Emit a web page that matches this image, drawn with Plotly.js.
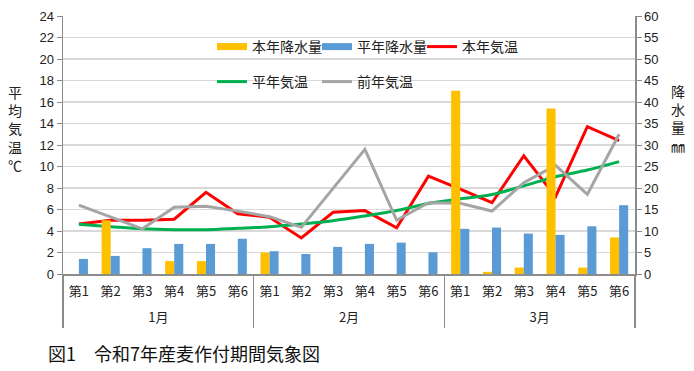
<!DOCTYPE html>
<html>
<head>
<meta charset="utf-8">
<script src="https://cdn.plot.ly/plotly-3.0.1.min.js"></script>
<style>html,body{margin:0;padding:0;background:#fff;}#chart{width:694px;height:371px;}</style>
</head>
<body>
<div id="chart"></div>
<script>
const months = ['1月','2月','3月'];
const weeks = ['第1','第2','第3','第4','第5','第6'];
// precipitation (mm, right axis)
const rainThisYear   = [0,12.5,0,3,3,0, 5,0,0,0,0,0, 42.6,0.5,1.5,38.5,1.5,8.5];
const rainNormal     = [3.5,4.2,6,7,7,8.2, 5.3,4.65,6.3,7,7.3,5.05, 10.5,10.8,9.4,9.1,11.1,16.0];
// mean temperature (°C, left axis)
const tempThisYear   = [4.65,5.0,5.0,5.1,7.6,5.6, 5.27,3.35,5.74,5.9,4.3,9.1, 7.9,6.63,11.0,7.2,13.7,12.4];
const tempNormal     = [4.62,4.4,4.2,4.12,4.12,4.25, 4.4,4.65,4.96,5.4,5.9,6.55, 6.98,7.4,8.2,9.05,9.67,10.45];
const tempPrevYear   = [6.4,5.33,4.2,6.2,6.3,5.85, 5.33,4.34,8.0,11.6,5.0,6.63, 6.57,5.86,8.5,10.1,7.4,13.0];

// category positions (one slot per week of each month)
const nW = weeks.length;
const xIdx = [], weekText = [];
months.forEach((m, mi) => weeks.forEach((w, wi) => { xIdx.push(mi * nW + wi); weekText.push(w); }));
const monthCenters = months.map((m, mi) => mi * nW + (nW - 1) / 2);
const monthEdges = [-0.5].concat(months.map((m, mi) => (mi + 1) * nW - 0.5));
const XR = [-0.5, months.length * nW - 0.5];

const FONT = 'Liberation Sans, Noto Sans CJK JP, sans-serif';
const JFONT = 'Noto Sans CJK JP, sans-serif';
const C_RAIN = '#FFC000', C_RAIN_N = '#5B9BD5';
const AX = '#8c8c8c';

const traces = [
  {type:'bar', name:'本年降水量', x:xIdx, y:rainThisYear, yaxis:'y2', marker:{color:C_RAIN}, showlegend:false},
  {type:'bar', name:'平年降水量', x:xIdx, y:rainNormal, yaxis:'y2', marker:{color:C_RAIN_N}, showlegend:false},
  // legend-only entries for the bar series (wide swatch like the original); they also anchor the label axes
  {type:'scatter', mode:'lines', name:'本年降水量', x:[null], y:[null], xaxis:'x3', line:{color:C_RAIN, width:7}, legend:'legend'},
  {type:'scatter', mode:'lines', name:'平年降水量', x:[null], y:[null], xaxis:'x4', line:{color:C_RAIN_N, width:7}, legend:'legend'},
  {type:'scatter', mode:'lines', name:'本年気温', x:xIdx, y:tempThisYear, line:{color:'#FF0000', width:3}, legend:'legend'},
  {type:'scatter', mode:'lines', name:'平年気温', x:xIdx, y:tempNormal, line:{color:'#00B050', width:3, shape:'spline'}, legend:'legend2'},
  {type:'scatter', mode:'lines', name:'前年気温', x:xIdx, y:tempPrevYear, line:{color:'#A5A5A5', width:3}, legend:'legend2'}
];

const legendCommon = {
  orientation:'h', xanchor:'left', yanchor:'middle', bgcolor:'rgba(255,255,255,0)',
  font:{family:JFONT, size:14, color:'#222'}, entrywidth:60, entrywidthmode:'pixels',
  itemwidth:30, tracegroupgap:0, traceorder:'normal'
};

const layout = {
  width:694, height:371,
  margin:{l:63, r:59, t:16, b:97, autoexpand:false},
  paper_bgcolor:'#fff', plot_bgcolor:'#fff',
  font:{family:FONT, size:13, color:'#222'},
  barmode:'group', bargap:0.43, bargroupgap:0,
  showlegend:true,
  legend:Object.assign({}, legendCommon, {x:(212-63)/572, y:(274-47)/258}),
  legend2:Object.assign({}, legendCommon, {x:(212-63)/572, y:(274-82)/258}),
  // week labels
  xaxis:{
    type:'linear', range:XR, tickmode:'array', tickvals:xIdx, ticktext:weekText,
    showline:true, linecolor:AX, linewidth:1.5, ticks:'', showgrid:false, zeroline:false,
    ticklabelstandoff:5, tickfont:{family:JFONT, size:13, color:'#222'}, fixedrange:true
  },
  // month labels
  xaxis3:{
    type:'linear', overlaying:'x', anchor:'y', side:'bottom', range:XR,
    tickmode:'array', tickvals:monthCenters, ticktext:months,
    showline:false, ticks:'', showgrid:false, zeroline:false,
    ticklabelstandoff:34, tickfont:{family:JFONT, size:13, color:'#222'}, fixedrange:true
  },
  // month dividers
  xaxis4:{
    type:'linear', overlaying:'x', anchor:'y', side:'bottom', range:XR,
    tickmode:'array', tickvals:monthEdges, ticktext:monthEdges.map(() => ''),
    showline:false, ticks:'outside', ticklen:53, tickwidth:1.2, tickcolor:AX,
    showgrid:false, zeroline:false, showticklabels:false, fixedrange:true
  },
  yaxis:{
    range:[0,24], dtick:2, tick0:0, showline:true, linecolor:AX, linewidth:1.5,
    ticks:'outside', ticklen:5, tickcolor:AX, showgrid:true, gridcolor:'#d9d9d9', gridwidth:1.5,
    zeroline:false, tickfont:{family:FONT, size:13, color:'#222'}, fixedrange:true
  },
  yaxis2:{
    range:[0,60], dtick:5, tick0:0, overlaying:'y', side:'right', showline:true, linecolor:AX, linewidth:1.5,
    ticks:'outside', ticklen:5, tickcolor:AX, showgrid:false, zeroline:false,
    tickfont:{family:FONT, size:13, color:'#222'}
  },
  title:{text:'図1　令和7年産麦作付期間気象図', xref:'container', yref:'container',
         x:48/694, xanchor:'left', y:1-355/371, yanchor:'middle',
         font:{family:JFONT, size:18, color:'#111'}},
  annotations:[
    {text:'平<br>均<br>気<br>温<br>℃', xref:'paper', yref:'paper', x:(15-63)/572, y:(274-128)/258,
     xanchor:'center', yanchor:'middle', showarrow:false, align:'center',
     font:{family:JFONT, size:14, color:'#222'}},
    {text:'降<br>水<br>量<br>㎜', xref:'paper', yref:'paper', x:(678-63)/572, y:(274-118)/258,
     xanchor:'center', yanchor:'middle', showarrow:false, align:'center',
     font:{family:JFONT, size:14, color:'#222'}}
  ]
};

Plotly.newPlot('chart', traces, layout, {displayModeBar:false, staticPlot:true});
</script>
</body>
</html>
